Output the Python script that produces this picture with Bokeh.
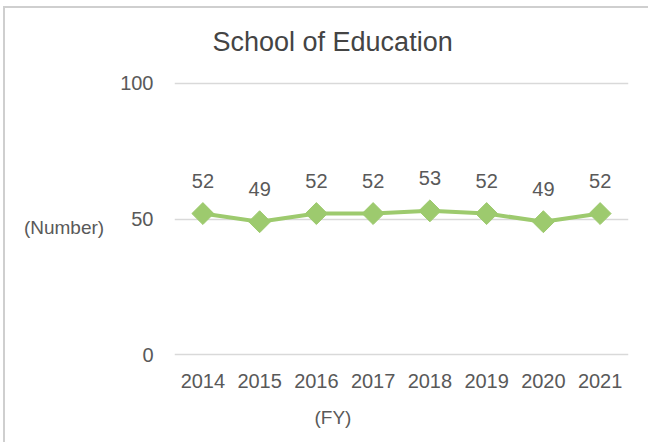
import numpy as np
from bokeh.plotting import figure
from bokeh.models import ColumnDataSource, FactorRange, Range1d, Title, FixedTicker
from bokeh.core.properties import value
from bokeh.embed import file_html
from bokeh.resources import INLINE

years = ["2014", "2015", "2016", "2017", "2018", "2019", "2020", "2021"]
counts = [52, 49, 52, 52, 53, 52, 49, 52]
y_ticks = [0, 50, 100]
title_text = "School of Education"
y_label = "(Number)"
x_label = "(FY)"

FONT = "Liberation Sans"
TEXT = "#595959"
TITLE = "#444444"
GREEN = "#9DCA6E"
GRID = "#d9d9d9"
BORDER = "#cfcfcf"

src = ColumnDataSource(dict(year=years, count=counts, lab=[str(c) for c in counts]))

p = figure(width=648, height=442, output_backend="svg", toolbar_location=None,
           x_range=FactorRange(factors=years, range_padding=0),
           y_range=Range1d(-1, 101),
           min_border_left=174, min_border_right=20, min_border_top=80, min_border_bottom=84)
p.outline_line_color = None
p.background_fill_color = "white"
p.border_fill_color = None
p.styles = {
    "background-color": "white",
    "background-image": f"linear-gradient({BORDER}, {BORDER}), linear-gradient({BORDER}, {BORDER})",
    "background-size": "2px 100%, 100% 2px",
    "background-position": "3px 6px, 3px 6px",
    "background-repeat": "no-repeat",
}

p.title.text = title_text
p.title.align = "left"
p.title.offset = 38
p.title.standoff = 47
p.title.text_font = FONT
p.title.text_font_size = "27px"
p.title.text_font_style = "normal"
p.title.text_color = TITLE

p.xgrid.grid_line_color = None
p.ygrid.grid_line_color = GRID
p.ygrid.grid_line_width = 1.5

for ax in (p.xaxis[0], p.yaxis[0]):
    ax.axis_line_color = None
    ax.major_tick_line_color = None
    ax.minor_tick_line_color = None
    ax.major_label_text_font = FONT
    ax.major_label_text_font_size = "20px"
    ax.major_label_text_color = TEXT
p.yaxis[0].ticker = FixedTicker(ticks=y_ticks)
p.ygrid[0].ticker = FixedTicker(ticks=y_ticks)
p.yaxis[0].major_label_standoff = 15
p.xaxis[0].major_label_standoff = 10

ya = p.yaxis[0]
ya.axis_label = "\n" + y_label
ya.axis_label_orientation = "horizontal"
ya.axis_label_standoff = 13
ya.axis_label_text_line_height = 0.85
ya.axis_label_text_font = FONT
ya.axis_label_text_font_size = "19px"
ya.axis_label_text_font_style = "normal"
ya.axis_label_text_color = TEXT

p.add_layout(Title(text=x_label, align="left", offset=140, standoff=29,
                   text_font=FONT, text_font_size="19px", text_font_style="normal",
                   text_color=TEXT), "below")

p.line(x="year", y="count", source=src, line_color=GREEN, line_width=4)
p.scatter(x="year", y="count", source=src, marker="square", angle=np.pi / 4,
          size=15.5, fill_color=GREEN, line_color=GREEN)
p.text(x="year", y="count", text="lab", source=src, y_offset=-33,
       text_align="center", text_baseline="middle", text_font=value(FONT),
       text_font_size="20px", text_color=TEXT)

open("out.html", "w").write(file_html(p, INLINE))
